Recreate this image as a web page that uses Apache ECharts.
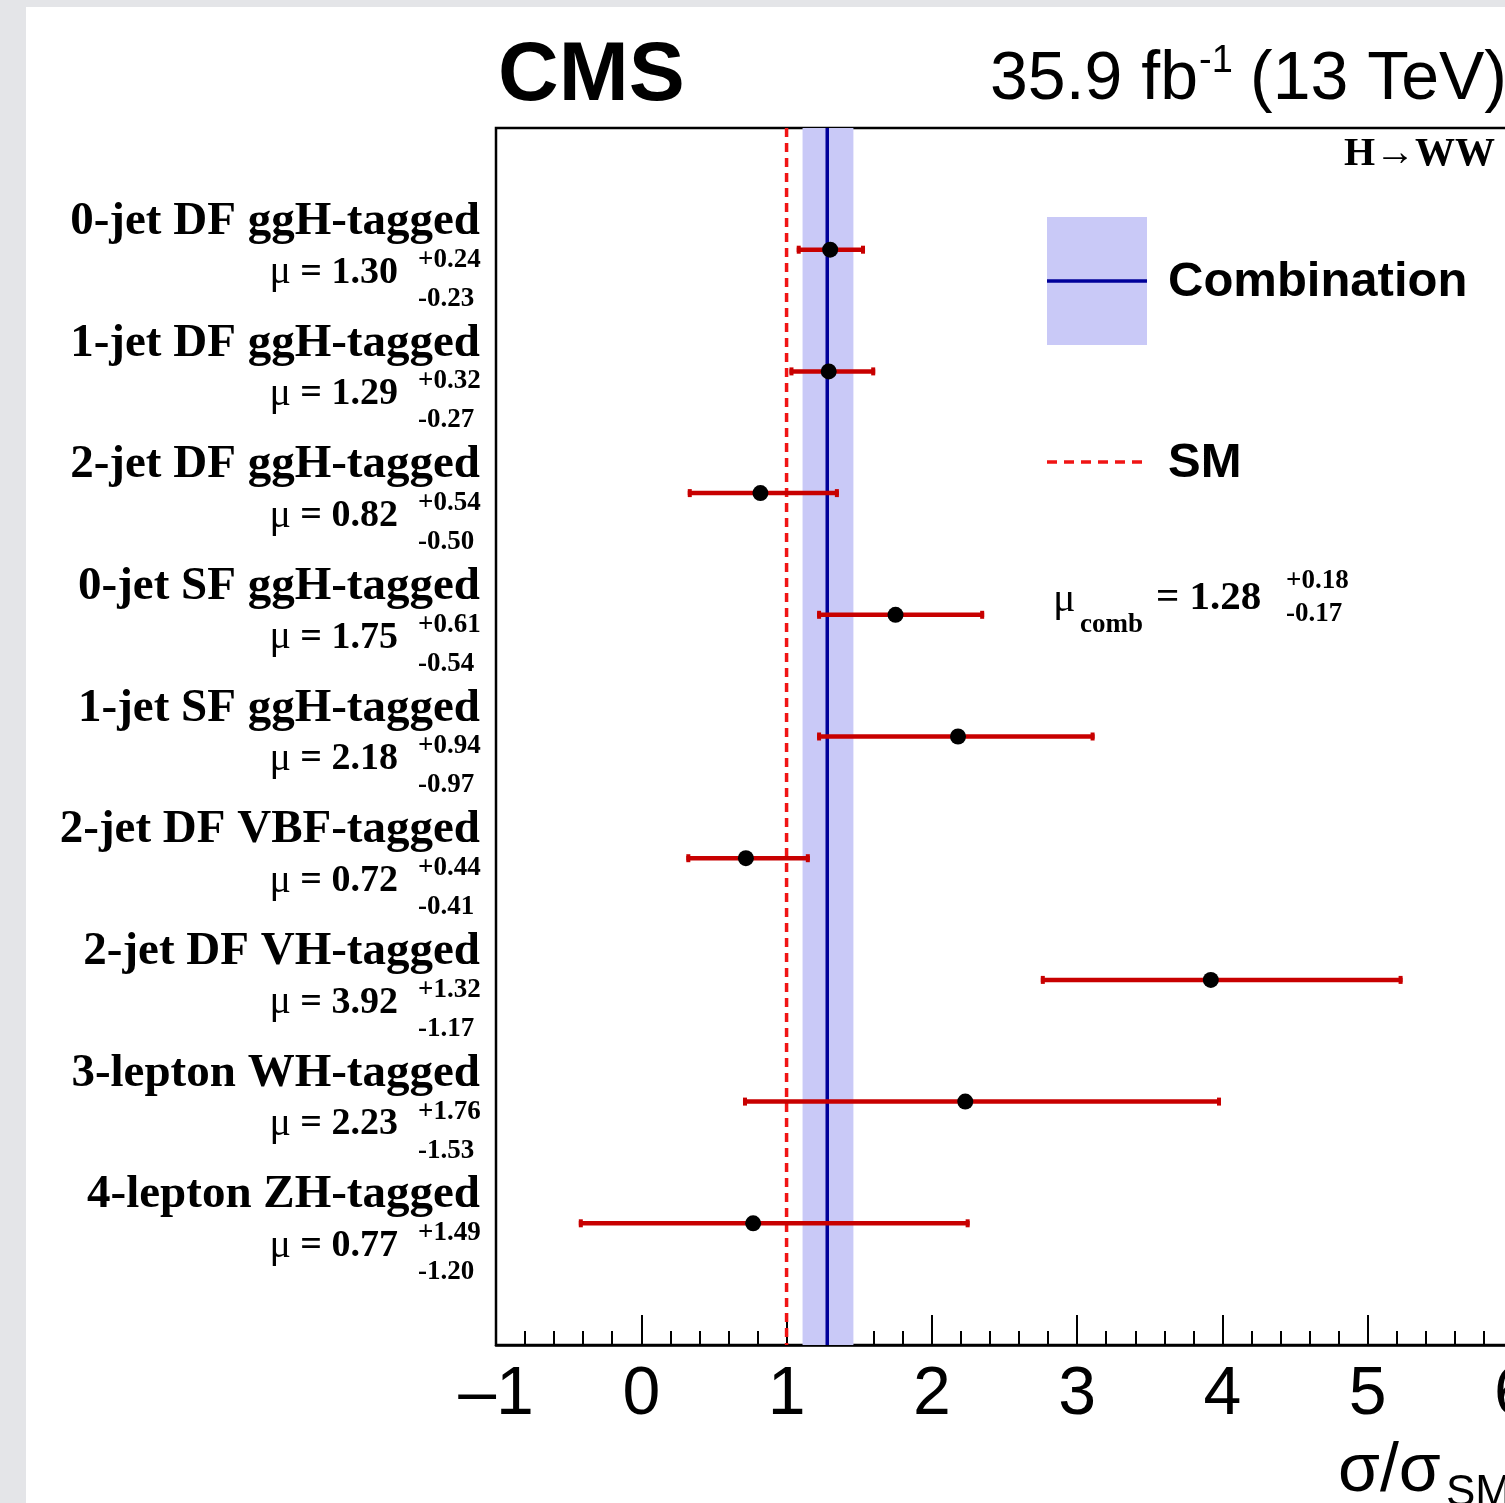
<!DOCTYPE html>
<html>
<head>
<meta charset="utf-8">
<title>H→WW signal strength per category</title>
<script src="https://cdn.jsdelivr.net/npm/echarts@6/dist/echarts.min.js"></script>
<style>
  html, body { margin: 0; padding: 0; background: #e4e5e8; }
  #chart { width: 1505px; height: 1503px; }
</style>
</head>
<body>
<div id="chart"></div>
<script>
// categories, top row first
const categories = [
  '0-jet DF ggH-tagged',
  '1-jet DF ggH-tagged',
  '2-jet DF ggH-tagged',
  '0-jet SF ggH-tagged',
  '1-jet SF ggH-tagged',
  '2-jet DF VBF-tagged',
  '2-jet DF VH-tagged',
  '3-lepton WH-tagged',
  '4-lepton ZH-tagged'
]
const mu = [1.30, 1.29, 0.82, 1.75, 2.18, 0.72, 3.92, 2.23, 0.77]
const errUp = [0.24, 0.32, 0.54, 0.61, 0.94, 0.44, 1.32, 1.76, 1.49]
const errDown = [0.23, 0.27, 0.50, 0.54, 0.97, 0.41, 1.17, 1.53, 1.20]
// position of each row on the (hidden) y scale, top row = 9
const rowPos = [9, 8, 7, 6, 5, 4, 3, 2, 1]

// combined fit and SM reference
const combMu = 1.28
const combUp = 0.18
const combDown = 0.17
const smValue = 1

const xTicks = [-1, 0, 1, 2, 3, 4, 5, 6]
const yRange = [0, 10]

const SERIF = '"Liberation Serif", "DejaVu Serif", serif'
const SANS = '"Liberation Sans", Arial, Helvetica, sans-serif'
const BAR_RED = '#c80000'
const SM_RED = '#f01414'
const BAND = '#c9c9f7'
const COMB_BLUE = '#00009a'

const chart = echarts.init(document.getElementById('chart'))

function renderBand(params, api) {
  const lo = api.coord([api.value(1), yRange[1]])
  const hi = api.coord([api.value(2), yRange[0]])
  const top = api.coord([api.value(0), yRange[1]])
  const bot = api.coord([api.value(0), yRange[0]])
  return {
    type: 'group',
    children: [
      { type: 'rect', shape: { x: lo[0], y: lo[1], width: hi[0] - lo[0], height: hi[1] - lo[1] }, style: { fill: BAND } },
      { type: 'line', shape: { x1: top[0], y1: top[1], x2: bot[0], y2: bot[1] }, style: { stroke: COMB_BLUE, lineWidth: 3.5 } }
    ]
  }
}

function renderSM(params, api) {
  const top = api.coord([api.value(0), yRange[1]])
  const bot = api.coord([api.value(0), yRange[0]])
  return {
    type: 'line',
    shape: { x1: top[0], y1: top[1], x2: bot[0], y2: bot[1] },
    style: { stroke: SM_RED, lineWidth: 3.5, lineDash: [9, 6] }
  }
}

function renderErrorBar(params, api) {
  const y = api.value(2)
  const lo = api.coord([api.value(0), y])
  const hi = api.coord([api.value(1), y])
  const bar = { stroke: BAR_RED, lineWidth: 4.5 }
  const cap = { stroke: BAR_RED, lineWidth: 4 }
  return {
    type: 'group',
    children: [
      { type: 'line', shape: { x1: lo[0], y1: lo[1], x2: hi[0], y2: hi[1] }, style: bar },
      { type: 'line', shape: { x1: lo[0] + 2, y1: lo[1] - 4, x2: lo[0] + 2, y2: lo[1] + 4 }, style: cap },
      { type: 'line', shape: { x1: hi[0] - 2, y1: hi[1] - 4, x2: hi[0] - 2, y2: hi[1] + 4 }, style: cap }
    ]
  }
}

function renderLabel(params, api) {
  const i = params.dataIndex
  const p = api.coord([api.value(0), api.value(1)])
  const x = p[0]
  const y = p[1]
  return {
    type: 'group',
    children: [
      {
        type: 'text',
        style: {
          x: x - 16, y: y - 28, text: categories[i],
          fontFamily: SERIF, fontWeight: 'bold', fontSize: 47,
          fill: '#000', align: 'right', verticalAlign: 'middle'
        }
      },
      {
        type: 'text',
        style: {
          x: x - 98, y: y + 23,
          text: '{m|μ}{b| = ' + mu[i].toFixed(2) + '}',
          align: 'right', verticalAlign: 'middle',
          rich: {
            m: { fontFamily: SERIF, fontSize: 40, fill: '#000' },
            b: { fontFamily: SERIF, fontWeight: 'bold', fontSize: 38, fill: '#000' }
          }
        }
      },
      {
        type: 'text',
        style: {
          x: x - 78, y: y + 10, text: '+' + errUp[i].toFixed(2),
          fontFamily: SERIF, fontWeight: 'bold', fontSize: 27,
          fill: '#000', align: 'left', verticalAlign: 'middle'
        }
      },
      {
        type: 'text',
        style: {
          x: x - 78, y: y + 49, text: '-' + errDown[i].toFixed(2),
          fontFamily: SERIF, fontWeight: 'bold', fontSize: 27,
          fill: '#000', align: 'left', verticalAlign: 'middle'
        }
      }
    ]
  }
}

const option = {
  backgroundColor: '#e4e5e8',
  animation: false,
  grid: {
    left: 496, top: 128, width: 1017, height: 1217,
    outerBoundsMode: 'none', containLabel: false,
    show: true, backgroundColor: 'transparent',
    borderColor: '#000', borderWidth: 2.5
  },
  xAxis: {
    type: 'value',
    min: xTicks[0],
    max: xTicks[xTicks.length - 1],
    interval: 1,
    axisLine: { onZero: false, lineStyle: { color: '#000', width: 2.5 } },
    axisTick: { inside: true, length: 30, lineStyle: { color: '#000', width: 2 } },
    minorTick: { show: true, splitNumber: 5, length: 14, lineStyle: { color: '#000', width: 2 } },
    splitLine: { show: false },
    axisLabel: {
      margin: 16,
      fontFamily: SANS, fontSize: 68, color: '#000',
      formatter: (v) => (v < 0 ? '\u2013' + Math.abs(v) : String(v))
    }
  },
  yAxis: {
    type: 'value',
    min: yRange[0],
    max: yRange[1],
    axisLine: { show: false },
    axisTick: { show: false },
    axisLabel: { show: false },
    splitLine: { show: false }
  },
  graphic: [
    { type: 'rect', z: -10, shape: { x: 26, y: 7, width: 1500, height: 1500 }, style: { fill: '#fff' } },
    { type: 'text', x: 498, y: 77, style: { text: 'CMS', fontFamily: SANS, fontWeight: 'bold', fontSize: 84, fill: '#000', verticalAlign: 'middle' } },
    { type: 'text', x: 990, y: 80, style: { text: '35.9 fb', fontFamily: SANS, fontSize: 68, fill: '#000', verticalAlign: 'middle' } },
    { type: 'text', x: 1199, y: 62, style: { text: '-1', fontFamily: SANS, fontSize: 38, fill: '#000', verticalAlign: 'middle' } },
    { type: 'text', x: 1250, y: 80, style: { text: '(13 TeV)', fontFamily: SANS, fontSize: 68, fill: '#000', verticalAlign: 'middle' } },
    { type: 'text', x: 1495, y: 155, style: { text: 'H→WW', fontFamily: SERIF, fontWeight: 'bold', fontSize: 40, fill: '#000', align: 'right', verticalAlign: 'middle' } },
    // legend
    { type: 'rect', shape: { x: 1047, y: 217, width: 100, height: 128 }, style: { fill: BAND } },
    { type: 'line', shape: { x1: 1047, y1: 281, x2: 1147, y2: 281 }, style: { stroke: COMB_BLUE, lineWidth: 3.5 } },
    { type: 'text', x: 1168, y: 282, style: { text: 'Combination', fontFamily: SANS, fontWeight: 'bold', fontSize: 49, fill: '#000', verticalAlign: 'middle' } },
    { type: 'line', shape: { x1: 1047, y1: 462, x2: 1147, y2: 462 }, style: { stroke: SM_RED, lineWidth: 3.5, lineDash: [10, 7] } },
    { type: 'text', x: 1168, y: 463, style: { text: 'SM', fontFamily: SANS, fontWeight: 'bold', fontSize: 49, fill: '#000', verticalAlign: 'middle' } },
    { type: 'text', x: 1053, y: 600, style: { text: 'μ', fontFamily: SERIF, fontSize: 42, fill: '#000', verticalAlign: 'middle' } },
    { type: 'text', x: 1080, y: 625, style: { text: 'comb', fontFamily: SERIF, fontWeight: 'bold', fontSize: 27, fill: '#000', verticalAlign: 'middle' } },
    { type: 'text', x: 1156, y: 598, style: { text: '= ' + combMu.toFixed(2), fontFamily: SERIF, fontWeight: 'bold', fontSize: 41, fill: '#000', verticalAlign: 'middle' } },
    { type: 'text', x: 1286, y: 581, style: { text: '+' + combUp.toFixed(2), fontFamily: SERIF, fontWeight: 'bold', fontSize: 27, fill: '#000', verticalAlign: 'middle' } },
    { type: 'text', x: 1286, y: 614, style: { text: '-' + combDown.toFixed(2), fontFamily: SERIF, fontWeight: 'bold', fontSize: 27, fill: '#000', verticalAlign: 'middle' } },
    // axis title
    { type: 'text', x: 1338, y: 1472, style: { text: 'σ/σ', fontFamily: SANS, fontSize: 68, fill: '#000', verticalAlign: 'middle' } },
    { type: 'text', x: 1446, y: 1494, style: { text: 'SM', fontFamily: SANS, fontSize: 44, fill: '#000', verticalAlign: 'middle' } }
  ],
  series: [
    {
      type: 'custom', name: 'band', z: 1, silent: true,
      renderItem: renderBand,
      data: [[combMu, combMu - combDown, combMu + combUp]]
    },
    {
      type: 'custom', name: 'SM', z: 2, silent: true,
      renderItem: renderSM,
      data: [[smValue]]
    },
    {
      type: 'custom', name: 'errors', z: 3, silent: true,
      renderItem: renderErrorBar,
      data: mu.map((m, i) => [m - errDown[i], m + errUp[i], rowPos[i]])
    },
    {
      type: 'scatter', name: 'mu', z: 4, silent: true,
      symbol: 'circle', symbolSize: 16,
      itemStyle: { color: '#000', opacity: 1 },
      data: mu.map((m, i) => [m, rowPos[i]])
    },
    {
      type: 'custom', name: 'labels', z: 5, silent: true, clip: false,
      renderItem: renderLabel,
      data: rowPos.map((r) => [xTicks[0], r])
    }
  ]
}

chart.setOption(option)
</script>
</body>
</html>
